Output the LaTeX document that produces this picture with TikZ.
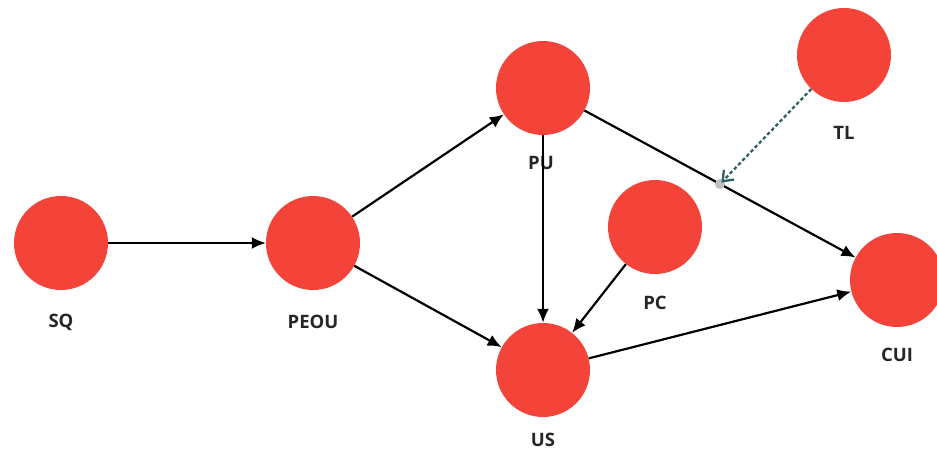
\documentclass[tikz,border=0pt]{standalone}
\usepackage{fontspec}
\setmainfont{Open Sans}
\usetikzlibrary{arrows.meta,calc}
\definecolor{nodered}{RGB}{244,67,56}
\definecolor{teal2}{RGB}{47,96,100}
\begin{document}
\begin{tikzpicture}[x=1pt,y=-1pt,
  circ/.style={circle,fill=nodered,draw=none,minimum size=94pt,inner sep=0pt},
  lbl/.style={font=\fontsize{18.5}{22}\selectfont\bfseries,text=black!85,inner sep=0pt},
  edge/.style={line width=2.2pt,-{Latex[length=14pt,width=12pt]}},
  dashedge/.style={line width=2.3pt,teal2,dash pattern=on 3.5pt off 2.5pt,-{Straight Barb[length=9pt,width=14pt]}}]
\useasboundingbox (0,0) rectangle (937,454);
\node[circ] (SQ) at (61,243) {};
\node[circ] (PEOU) at (313,243) {};
\node[circ] (PU) at (543,88) {};
\node[circ] (TL) at (844,55) {};
\node[circ] (PC) at (655,227) {};
\node[circ] (CUI) at (897,280) {};
\node[circ] (US) at (543,370) {};
\node[lbl] (SQl) at (61,322) {SQ};
\node[lbl] (PEOUl) at (313,322) {PEOU};
\node[lbl] (PUl) at (541,163) {PU};
\node[lbl] (TLl) at (844,133) {TL};
\node[lbl] (PCl) at (655,303) {PC};
\node[lbl] (CUIl) at (897,355) {CUI};
\node[lbl] (USl) at (543,440) {US};
\draw[edge] (SQ) -- (PEOU);
\draw[edge] (PEOU) -- (PU);
\draw[edge] (PEOU) -- (US);
\draw[edge] (PU) -- (US);
\draw[edge] (PU) -- (CUI);
\draw[edge] (PC) -- (US);
\draw[edge] (US) -- (CUI);
\coordinate (mid) at ($(PU)!0.5!(CUI)$);
\fill[black!25] (mid) circle (5pt);
\draw[dashedge,shorten >=2pt] (TL) -- (mid);
\end{tikzpicture}
\end{document}
